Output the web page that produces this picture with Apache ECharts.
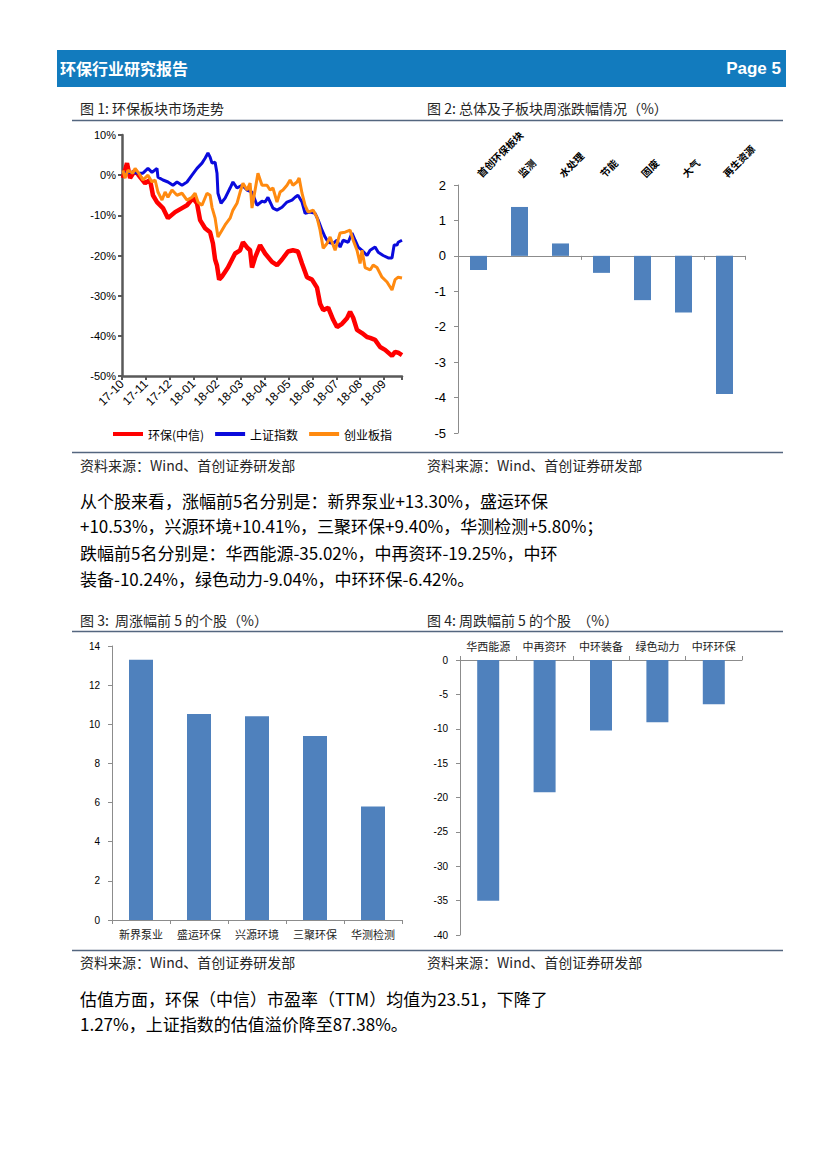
<!DOCTYPE html>
<html>
<head>
<meta charset="utf-8">
<script src="https://cdn.jsdelivr.net/npm/echarts@6/dist/echarts.min.js"></script>
<style>
html,body{margin:0;padding:0;background:#fff;}
#page{width:827px;height:1169px;}
</style>
</head>
<body>
<div id="page"></div>
<script>
// ---------- Data ----------
// Figure 1: x = months since 2017-10 start, y = cumulative change (%)
const monthLabels = ['17-10','17-11','17-12','18-01','18-02','18-03','18-04','18-05','18-06','18-07','18-08','18-09'];
const seriesNames1 = ['环保(中信)', '上证指数', '创业板指'];
const huanbao = [[0.04,-0.7],[0.21,3.0],[0.34,-0.7],[0.55,1.2],[0.76,-0.5],[0.97,-2.0],[1.18,-1.2],[1.30,-5.0],[1.47,-6.7],[1.72,-8.2],[1.93,-10.7],[2.23,-9.2],[2.52,-8.2],[2.73,-7.5],[2.98,-5.7],[3.15,-7.0],[3.28,-11.2],[3.49,-13.2],[3.70,-14.2],[3.82,-17.0],[3.91,-21.0],[3.99,-22.5],[4.08,-26.0],[4.20,-25.2],[4.45,-23.0],[4.75,-19.5],[4.96,-18.7],[5.08,-16.7],[5.25,-18.0],[5.38,-18.7],[5.46,-23.0],[5.59,-20.5],[5.80,-17.4],[6.01,-19.5],[6.30,-21.6],[6.51,-22.4],[6.72,-21.0],[6.97,-19.0],[7.18,-18.7],[7.39,-19.0],[7.56,-22.0],[7.77,-25.4],[7.98,-26.0],[8.19,-28.0],[8.32,-32.0],[8.45,-33.6],[8.66,-33.0],[8.87,-36.0],[9.03,-37.8],[9.24,-37.0],[9.45,-35.6],[9.58,-34.0],[9.71,-35.5],[9.87,-38.5],[10.08,-39.3],[10.29,-40.3],[10.42,-40.5],[10.63,-41.0],[10.84,-42.8],[11.05,-43.5],[11.34,-45.0],[11.47,-44.0],[11.60,-44.2],[11.76,-44.8]];
const shangzheng = [[0.04,0.5],[0.42,0.7],[0.67,0.5],[0.88,0.5],[1.09,1.7],[1.26,0.7],[1.47,1.7],[1.51,-0.5],[1.72,-1.2],[1.93,-1.7],[2.14,-2.5],[2.31,-1.7],[2.52,-2.5],[2.73,-1.7],[2.94,0.0],[3.15,1.7],[3.36,3.0],[3.49,4.2],[3.61,5.5],[3.70,4.5],[3.78,3.0],[3.91,3.2],[3.99,0.5],[4.03,-4.5],[4.16,-7.0],[4.33,-5.7],[4.54,-3.2],[4.66,-1.7],[4.83,-3.2],[5.04,-2.5],[5.25,-3.7],[5.46,-4.2],[5.67,-7.5],[5.88,-6.5],[6.01,-6.7],[6.13,-5.5],[6.34,-8.2],[6.51,-8.7],[6.72,-8.0],[6.93,-6.7],[7.14,-6.2],[7.27,-5.5],[7.39,-5.0],[7.56,-6.7],[7.69,-9.5],[7.90,-9.2],[8.11,-9.5],[8.24,-11.2],[8.40,-13.7],[8.53,-15.4],[8.66,-16.7],[8.87,-17.0],[9.03,-16.2],[9.16,-17.9],[9.29,-16.2],[9.50,-16.7],[9.66,-14.4],[9.79,-16.2],[9.92,-17.9],[10.08,-18.7],[10.29,-20.0],[10.42,-18.7],[10.63,-17.9],[10.76,-19.2],[10.97,-20.0],[11.18,-20.6],[11.34,-20.6],[11.43,-17.4],[11.55,-17.4],[11.60,-16.7],[11.76,-16.2]];
const chuangye = [[0.04,1.2],[0.13,-0.7],[0.25,1.2],[0.46,0.5],[0.55,1.7],[0.76,0.0],[0.88,-1.2],[1.09,0.0],[1.26,-1.7],[1.39,-1.2],[1.51,-4.2],[1.68,-6.2],[1.81,-4.2],[1.93,-5.5],[2.10,-3.7],[2.31,-5.0],[2.52,-4.5],[2.73,-6.2],[2.94,-5.5],[3.07,-4.5],[3.19,-6.7],[3.36,-7.5],[3.57,-4.5],[3.70,-5.0],[3.78,-8.0],[3.91,-10.7],[4.03,-15.4],[4.20,-13.7],[4.33,-12.4],[4.54,-10.7],[4.66,-8.7],[4.83,-7.0],[4.96,-4.2],[5.08,-2.0],[5.25,-3.7],[5.38,-2.0],[5.46,-8.2],[5.59,-3.7],[5.71,0.5],[5.88,-2.5],[6.09,-2.5],[6.22,-3.7],[6.34,-3.2],[6.51,-6.7],[6.64,-4.2],[6.76,-3.7],[6.93,-2.5],[7.06,-1.2],[7.18,-2.5],[7.35,-1.7],[7.44,-0.7],[7.56,-4.5],[7.69,-7.5],[7.82,-9.2],[8.03,-8.7],[8.19,-10.5],[8.32,-13.7],[8.45,-18.2],[8.61,-17.0],[8.74,-15.4],[8.95,-18.7],[9.16,-14.4],[9.37,-14.2],[9.58,-13.7],[9.71,-16.2],[9.87,-18.7],[10.00,-22.0],[10.08,-18.7],[10.21,-23.0],[10.42,-23.6],[10.55,-22.4],[10.71,-23.0],[10.92,-25.4],[11.13,-26.6],[11.34,-28.6],[11.47,-26.0],[11.60,-25.4],[11.76,-25.6]];

// Figure 2: weekly change by sub-sector (%)
const sectors = ['首创环保板块','监测','水处理','节能','固废','大气','再生资源'];
const sectorChange = [-0.40, 1.38, 0.35, -0.48, -1.25, -1.60, -3.90];

// Figure 3: top 5 gainers (%)
const gainers = ['新界泵业','盛运环保','兴源环境','三聚环保','华测检测'];
const gainerChange = [13.30, 10.53, 10.41, 9.40, 5.80];

// Figure 4: top 5 losers (%)
const losers = ['华西能源','中再资环','中环装备','绿色动力','中环环保'];
const loserChange = [-35.02, -19.25, -10.24, -9.04, -6.42];

// Text
const headerTitle = '环保行业研究报告';
const headerPage = 'Page 5';
const figTitles = ['图 1: 环保板块市场走势', '图 2: 总体及子板块周涨跌幅情况（%）', '图 3:  周涨幅前 5 的个股（%）', '图 4: 周跌幅前 5 的个股  （%）'];
const sourceText = '资料来源：Wind、首创证券研发部';
const para1 = ['从个股来看，涨幅前5名分别是：新界泵业+13.30%，盛运环保',
  '+10.53%，兴源环境+10.41%，三聚环保+9.40%，华测检测+5.80%；',
  '跌幅前5名分别是：华西能源-35.02%，中再资环-19.25%，中环',
  '装备-10.24%，绿色动力-9.04%，中环环保-6.42%。'];
const para2 = ['估值方面，环保（中信）市盈率（TTM）均值为23.51，下降了',
  '1.27%，上证指数的估值溢价降至87.38%。'];

// ---------- Rendering ----------
const CJK = '"Noto Sans CJK SC", sans-serif';
const SANS = 'Arial, "Liberation Sans", "Noto Sans CJK SC", sans-serif';
const BAR = '#4F81BD';
const GRAYAXIS = '#8C8C8C';

const chart = echarts.init(document.getElementById('page'), null, {renderer: 'svg', width: 827, height: 1169});

function txt(x, y, text, opt) {
  return Object.assign({type: 'text', x: x, y: y, silent: true,
    style: Object.assign({text: text, fontFamily: CJK, fontSize: 14, fill: '#262626', verticalAlign: 'middle', align: 'left'}, opt || {})});
}
function hline(x1, x2, y, color, w) {
  return {type: 'line', silent: true, shape: {x1: x1, y1: y, x2: x2, y2: y}, style: {stroke: color, lineWidth: w}};
}

const graphics = [
  {type: 'rect', silent: true, shape: {x: 57, y: 50, width: 729, height: 37}, style: {fill: '#127BBE'}},
  txt(60, 68, headerTitle, {fill: '#fff', fontSize: 16, fontWeight: 'bold'}),
  txt(781, 68, headerPage, {fill: '#fff', fontSize: 17, fontWeight: 'bold', align: 'right', fontFamily: SANS}),
  txt(80, 108, figTitles[0]),
  txt(427, 108, figTitles[1]),
  hline(72, 783, 120.5, '#54667F', 1.5),
  hline(72, 783, 452.5, '#54667F', 1.5),
  txt(80, 465, sourceText),
  txt(427, 465, sourceText),
  txt(80, 620, figTitles[2]),
  txt(427, 620, figTitles[3]),
  hline(72, 783, 631.5, '#54667F', 1.5),
  hline(72, 783, 950.5, '#54667F', 1.5),
  txt(80, 962, sourceText),
  txt(427, 962, sourceText)
];
const p1y = [500, 525, 552, 578];
para1.forEach((t, i) => graphics.push(txt(80, p1y[i], t, {fontSize: 17, fill: '#000'})));
const p2y = [998, 1023];
para2.forEach((t, i) => graphics.push(txt(80, p2y[i], t, {fontSize: 17, fill: '#000'})));

const labelBase = {fontFamily: SANS, color: '#000'};

const option = {
  animation: false,
  backgroundColor: '#fff',
  graphic: graphics,
  legend: {
    left: 108, top: 423, itemWidth: 30, itemHeight: 4, itemGap: 11, icon: 'rect',
    textStyle: {fontFamily: CJK, fontSize: 12, color: '#000'},
    data: seriesNames1
  },
  grid: [
    {left: 122, top: 135, width: 280, height: 241},
    {left: 458, top: 185, width: 287, height: 248},
    {left: 112, top: 646, width: 290, height: 274},
    {left: 460, top: 660, width: 282, height: 275}
  ],
  xAxis: [
    { // 0: figure 1
      gridIndex: 0, type: 'value', min: 0, max: 11.76, interval: 1,
      axisLine: {onZero: false, lineStyle: {color: '#595959', width: 2.5}},
      axisTick: {show: true, length: 4, lineStyle: {color: '#595959', width: 2}},
      splitLine: {show: false},
      axisLabel: Object.assign({}, labelBase, {fontSize: 12, rotate: 45, margin: 6,
        formatter: v => { const i = Math.round(v); return (Math.abs(v - i) < 1e-6 && monthLabels[i]) ? monthLabels[i] : ''; }})
    },
    { // 1: figure 2 baseline
      gridIndex: 1, type: 'category', data: sectors,
      axisLine: {onZero: true, lineStyle: {color: GRAYAXIS, width: 1}},
      axisTick: {show: true, length: 4, lineStyle: {color: GRAYAXIS}},
      axisLabel: {show: false}
    },
    { // 2: figure 2 labels on top
      gridIndex: 1, type: 'category', data: sectors, position: 'top',
      axisLine: {show: false, onZero: false}, axisTick: {show: false},
      axisLabel: Object.assign({}, labelBase, {fontFamily: CJK, fontSize: 10, fontWeight: 'bold', rotate: -45, interval: 0, margin: 10})
    },
    { // 3: figure 3
      gridIndex: 2, type: 'category', data: gainers,
      axisLine: {lineStyle: {color: GRAYAXIS, width: 1}},
      axisTick: {show: true, length: 4, lineStyle: {color: GRAYAXIS}},
      axisLabel: Object.assign({}, labelBase, {fontFamily: CJK, fontSize: 11, interval: 0, margin: 8, color: '#222'})
    },
    { // 4: figure 4
      gridIndex: 3, type: 'category', data: losers, position: 'top',
      axisLine: {lineStyle: {color: GRAYAXIS, width: 1}},
      axisTick: {show: true, length: 4, lineStyle: {color: GRAYAXIS}},
      axisLabel: Object.assign({}, labelBase, {fontFamily: CJK, fontSize: 11, interval: 0, margin: 9, color: '#222'})
    }
  ],
  yAxis: [
    {
      gridIndex: 0, type: 'value', min: -50, max: 10, interval: 10,
      axisLine: {show: true, onZero: false, lineStyle: {color: '#595959', width: 2.5}},
      axisTick: {show: true, length: 4, lineStyle: {color: '#595959', width: 2}},
      splitLine: {show: false},
      axisLabel: Object.assign({}, labelBase, {fontSize: 11, margin: 6, formatter: v => v + '%'})
    },
    {
      gridIndex: 1, type: 'value', min: -5, max: 2, interval: 1,
      axisLine: {show: true, onZero: false, lineStyle: {color: GRAYAXIS, width: 1}},
      axisTick: {show: true, length: 4, lineStyle: {color: GRAYAXIS}},
      splitLine: {show: false},
      axisLabel: Object.assign({}, labelBase, {fontSize: 13, margin: 12})
    },
    {
      gridIndex: 2, type: 'value', min: 0, max: 14, interval: 2,
      axisLine: {show: true, onZero: false, lineStyle: {color: GRAYAXIS, width: 1}},
      axisTick: {show: true, length: 4, lineStyle: {color: GRAYAXIS}},
      splitLine: {show: false},
      axisLabel: Object.assign({}, labelBase, {fontSize: 10, margin: 12})
    },
    {
      gridIndex: 3, type: 'value', min: -40, max: 0, interval: 5,
      axisLine: {show: true, onZero: false, lineStyle: {color: GRAYAXIS, width: 1}},
      axisTick: {show: true, length: 4, lineStyle: {color: GRAYAXIS}},
      splitLine: {show: false},
      axisLabel: Object.assign({}, labelBase, {fontSize: 10, margin: 12})
    }
  ],
  series: [
    {name: seriesNames1[0], type: 'line', xAxisIndex: 0, yAxisIndex: 0, data: huanbao, symbol: 'none',
      lineStyle: {color: '#FF0000', width: 4.5}, itemStyle: {color: '#FF0000'}, z: 3},
    {name: seriesNames1[1], type: 'line', xAxisIndex: 0, yAxisIndex: 0, data: shangzheng, symbol: 'none',
      lineStyle: {color: '#0A0ADC', width: 3}, itemStyle: {color: '#0A0ADC'}, z: 4},
    {name: seriesNames1[2], type: 'line', xAxisIndex: 0, yAxisIndex: 0, data: chuangye, symbol: 'none',
      lineStyle: {color: '#FF8A10', width: 3}, itemStyle: {color: '#FF8A10'}, z: 5},
    {type: 'bar', xAxisIndex: 1, yAxisIndex: 1, data: sectorChange, barWidth: 17, itemStyle: {color: BAR}},
    {type: 'bar', xAxisIndex: 3, yAxisIndex: 2, data: gainerChange, barWidth: 24, itemStyle: {color: BAR}},
    {type: 'bar', xAxisIndex: 4, yAxisIndex: 3, data: loserChange, barWidth: 22, itemStyle: {color: BAR}}
  ]
};
chart.setOption(option);
</script>
</body>
</html>
